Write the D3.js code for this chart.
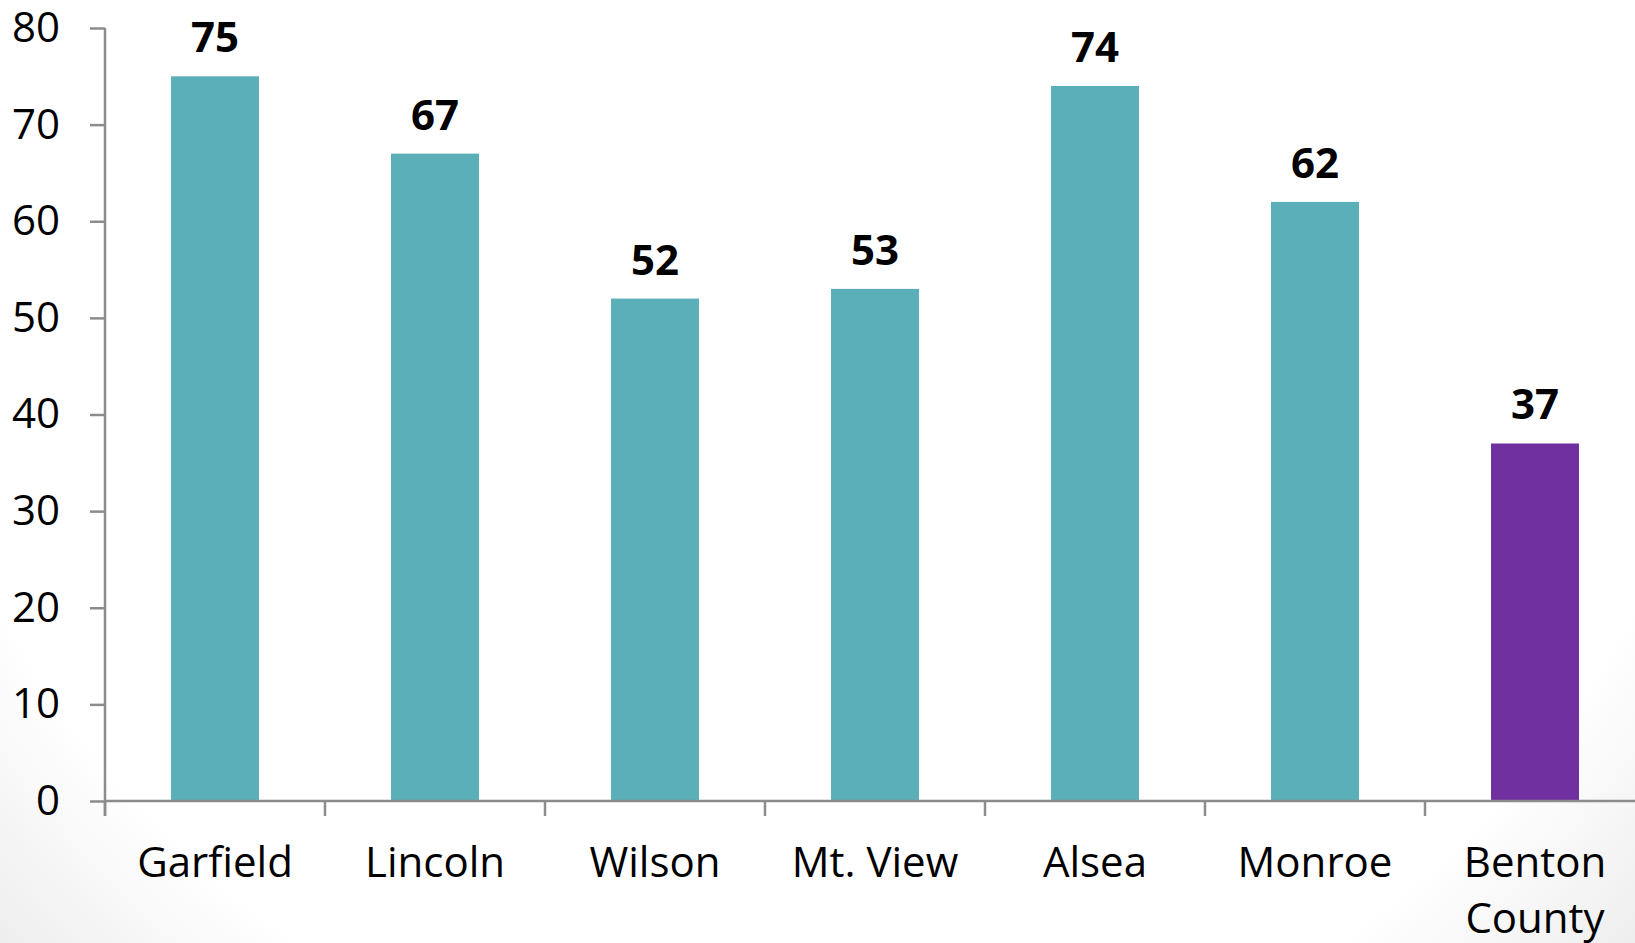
<!DOCTYPE html>
<html>
<head>
<meta charset="utf-8">
<script src="https://cdn.jsdelivr.net/npm/d3@7"></script>
<style>
  html, body { margin: 0; padding: 0; background: #fff; }
  svg { display: block; }
  text { font-family: "Open Sans", sans-serif; fill: #000; }
</style>
</head>
<body>
<svg id="chart" width="1635" height="943"></svg>
<script>
const categories = ["Garfield", "Lincoln", "Wilson", "Mt. View", "Alsea", "Monroe", "Benton County"];
const values = [75, 67, 52, 53, 74, 62, 37];
const barColors = ["#5BAFB8", "#5BAFB8", "#5BAFB8", "#5BAFB8", "#5BAFB8", "#5BAFB8", "#7030A0"];
const yTicks = [0, 10, 20, 30, 40, 50, 60, 70, 80];

(function () {
const W = 1635, H = 943;
const svg = d3.select("#chart");

// subtle background vignette (only visible in lower corners)
const defs = svg.append("defs");
const rg = defs.append("radialGradient").attr("id", "bg")
  .attr("gradientUnits", "userSpaceOnUse")
  .attr("cx", W / 2).attr("cy", 180).attr("r", 1150);
rg.append("stop").attr("offset", "80%").attr("stop-color", "#ffffff");
rg.append("stop").attr("offset", "100%").attr("stop-color", "#ebebeb");
svg.append("rect").attr("width", W).attr("height", H).attr("fill", "url(#bg)");

const mLeft = 105, mTop = 28, mBottom = 801, plotW = 1540;
const x = d3.scaleBand().domain(categories).range([mLeft, mLeft + plotW]).paddingInner(0.6).paddingOuter(0.3);
const y = d3.scaleLinear().domain([0, 80]).range([mBottom, mTop]);

const axisColor = "#8c8c8c";
const fs = "42px";

// Y axis
const yAxis = svg.append("g").attr("transform", `translate(${mLeft},0)`)
  .call(d3.axisLeft(y).tickValues(yTicks).tickSize(15).tickSizeOuter(0).tickPadding(30));
yAxis.select(".domain").attr("stroke", axisColor).attr("stroke-width", 2.5)
  .attr("d", `M0,${y(80)}V${mBottom + 15}`);
yAxis.selectAll(".tick line").attr("stroke", axisColor).attr("stroke-width", 2.5);
yAxis.selectAll(".tick text").style("font-size", fs).style("font-family", "'Open Sans', sans-serif").attr("fill", "#000");

// bars
svg.append("g").selectAll("rect").data(values).join("rect")
  .attr("x", (d, i) => x(categories[i]))
  .attr("width", x.bandwidth())
  .attr("y", d => y(d))
  .attr("height", d => y(0) - y(d))
  .attr("fill", (d, i) => barColors[i]);

// value labels
svg.append("g").selectAll("text").data(values).join("text")
  .attr("x", (d, i) => x(categories[i]) + x.bandwidth() / 2)
  .attr("y", d => y(d) - 24)
  .attr("text-anchor", "middle")
  .style("font-size", fs).style("font-weight", "bold")
  .text(d => d);

// X axis line and boundary ticks
const step = x.step();
const bounds = d3.range(categories.length + 1).map(i => mLeft + i * step);
svg.append("line").attr("x1", mLeft).attr("x2", mLeft + plotW)
  .attr("y1", mBottom).attr("y2", mBottom)
  .attr("stroke", axisColor).attr("stroke-width", 2.5);
svg.append("g").selectAll("line").data(bounds).join("line")
  .attr("x1", d => d).attr("x2", d => d)
  .attr("y1", mBottom).attr("y2", mBottom + 15)
  .attr("stroke", axisColor).attr("stroke-width", 2.5);

// category labels
const catG = svg.append("g");
categories.forEach(c => {
  const words = c === "Benton County" ? ["Benton", "County"] : [c];
  const t = catG.append("text")
    .attr("x", x(c) + x.bandwidth() / 2)
    .attr("y", mBottom + 76)
    .attr("text-anchor", "middle")
    .style("font-size", fs);
  words.forEach((w, i) => {
    t.append("tspan").attr("x", x(c) + x.bandwidth() / 2).attr("dy", i === 0 ? 0 : 56).text(w);
  });
});
})();
</script>
</body>
</html>
